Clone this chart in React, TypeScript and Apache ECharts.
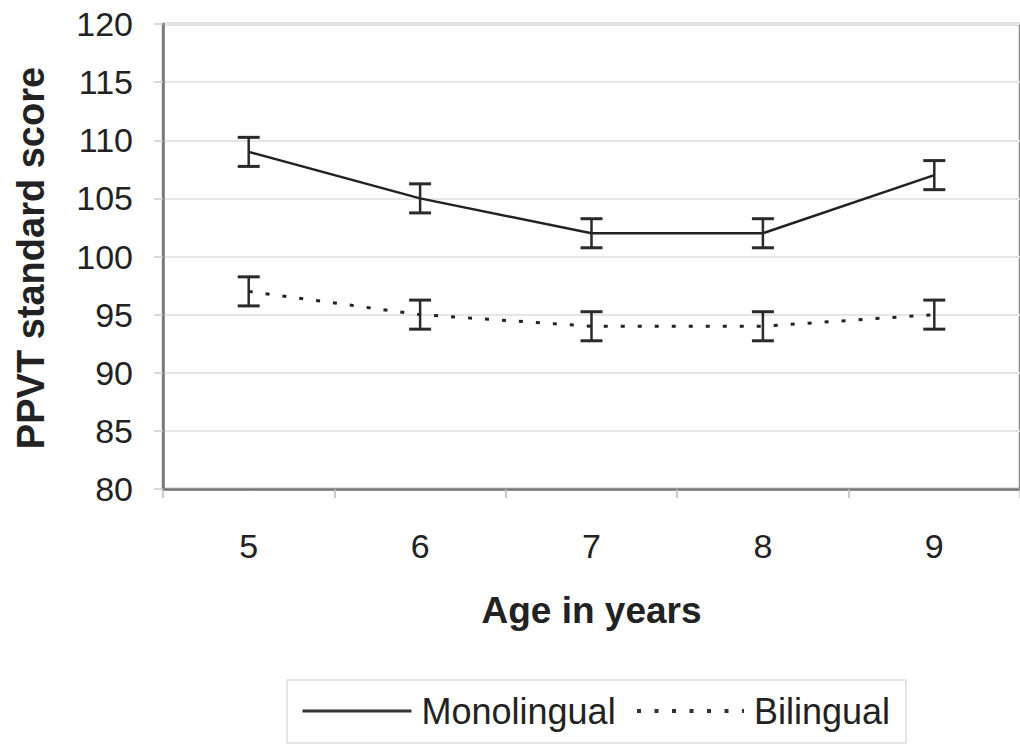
import React, { useEffect, useRef } from "react";
import * as echarts from "echarts";

const ages = ["5", "6", "7", "8", "9"];
const monolingual = [109, 105, 102, 102, 107];
const bilingual = [97, 95, 94, 94, 95];
const monoErr = [1.25, 1.25, 1.25, 1.25, 1.25];
const biErr = [1.25, 1.25, 1.25, 1.25, 1.25];
const yTicks = { min: 80, max: 120, interval: 5 };

const FONT = "'Liberation Sans', Arial, sans-serif";

export default function App() {
  const ref = useRef<HTMLDivElement>(null);
  useEffect(() => {
    if (!ref.current) return;
    const chart = echarts.init(ref.current, undefined, { renderer: "svg" });
    const errData = (vals: number[], errs: number[]) =>
      vals.map((v, i) => [i, v - errs[i], v + errs[i]]);
    const renderErr = (params: any, api: any) => {
      const x = api.value(0);
      const lo = api.coord([x, api.value(1)]);
      const hi = api.coord([x, api.value(2)]);
      const hw = 11;
      const style = { stroke: "#2a2a2a", lineWidth: 2.5 };
      const cap = { stroke: "#2a2a2a", lineWidth: 3 };
      return {
        type: "group",
        children: [
          { type: "line", shape: { x1: lo[0], y1: lo[1], x2: hi[0], y2: hi[1] }, style },
          { type: "line", shape: { x1: hi[0] - hw, y1: hi[1], x2: hi[0] + hw, y2: hi[1] }, style: cap },
          { type: "line", shape: { x1: lo[0] - hw, y1: lo[1], x2: lo[0] + hw, y2: lo[1] }, style: cap },
        ],
      };
    };
    chart.setOption({
      animation: false,
      textStyle: { fontFamily: FONT },
      grid: {
        left: 163,
        top: 24,
        width: 867,
        height: 465,
        show: true,
        borderColor: "#8a8a8a",
        borderWidth: 2.5,
      },
      xAxis: {
        type: "category",
        data: ages,
        boundaryGap: true,
        axisLine: { lineStyle: { color: "#777", width: 2.5 } },
        axisTick: { show: true, length: 9, lineStyle: { color: "#bbb", width: 1.5 } },
        axisLabel: { color: "#222", fontSize: 34, margin: 40, fontFamily: FONT },
        name: "Age in years",
        nameLocation: "middle",
        nameGap: 103,
        nameTextStyle: { fontSize: 37, fontWeight: "bold", color: "#222", fontFamily: FONT },
      },
      yAxis: {
        type: "value",
        min: yTicks.min,
        max: yTicks.max,
        interval: yTicks.interval,
        axisLine: { show: true, lineStyle: { color: "#777", width: 2.5 } },
        axisTick: { show: true, length: 9, lineStyle: { color: "#ccc", width: 1.5 } },
        axisLabel: { color: "#222", fontSize: 34, margin: 30, fontFamily: FONT },
        splitLine: { lineStyle: { color: "#e6e6e6", width: 2 } },
      },
      legend: [
        {
          data: ["Monolingual"],
          left: 301,
          top: 693,
          itemWidth: 109,
          itemHeight: 14,
          itemGap: 0,
          padding: 0,
          itemStyle: { opacity: 0 },
          lineStyle: { width: 3, color: "#333" },
          textStyle: { fontSize: 36, color: "#222", fontFamily: FONT, padding: [0, 0, 0, 5] },
        },
        {
          data: ["Bilingual"],
          left: 635,
          top: 693,
          itemWidth: 107,
          itemHeight: 14,
          itemGap: 0,
          padding: 0,
          itemStyle: { opacity: 0 },
          lineStyle: { width: 4, color: "#333", type: [4, 13.5] },
          textStyle: { fontSize: 36, color: "#222", fontFamily: FONT, padding: [0, 0, 0, 5] },
        },
      ],
      graphic: [
        {
          type: "rect",
          shape: { x: 287, y: 680, width: 619, height: 63 },
          style: { fill: "none", stroke: "#ddd", lineWidth: 1.5 },
          z: -1,
        },
        {
          type: "text",
          x: 31,
          y: 258,
          rotation: Math.PI / 2,
          style: {
            text: "PPVT standard score",
            fontSize: 38,
            fontWeight: "bold",
            fill: "#222",
            fontFamily: FONT,
            align: "center",
            verticalAlign: "middle",
          },
        },
      ],
      series: [
        {
          name: "Monolingual",
          type: "line",
          data: monolingual,
          symbol: "none",
          lineStyle: { color: "#222", width: 2.5 },
          itemStyle: { color: "#222" },
          z: 3,
        },
        {
          name: "Bilingual",
          type: "line",
          data: bilingual,
          symbol: "none",
          lineStyle: { color: "#222", width: 3, type: [4, 13] },
          itemStyle: { color: "#222" },
          z: 3,
        },
        {
          name: "MonoErr",
          type: "custom",
          data: errData(monolingual, monoErr),
          renderItem: renderErr,
          z: 4,
        },
        {
          name: "BiErr",
          type: "custom",
          data: errData(bilingual, biErr),
          renderItem: renderErr,
          z: 4,
        },
      ],
    });
    return () => chart.dispose();
  }, []);
  return (
    <div
      ref={ref}
      style={{ position: "fixed", left: 0, top: 0, width: 1020, height: 745, background: "#fff" }}
    />
  );
}
